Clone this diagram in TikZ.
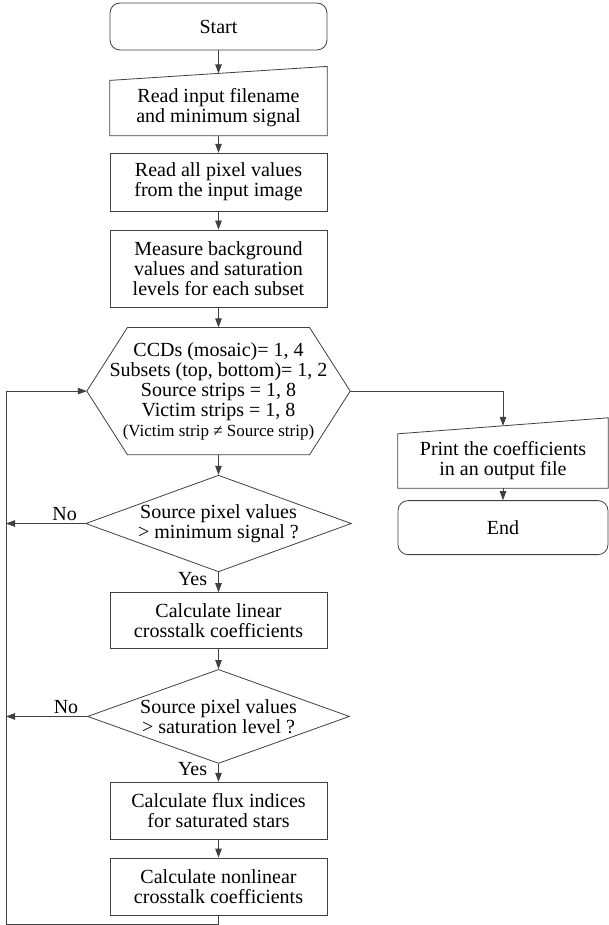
\documentclass[tikz,border=0pt]{standalone}
\usepackage{fontspec}
\setmainfont{Liberation Serif}
\usetikzlibrary{positioning,shapes.geometric,arrows.meta}

\tikzset{
  process/.style = {draw=black!75, line width=0.8pt, minimum width=217pt,
    minimum height=57pt, inner sep=0pt, align=center},
  terminal/.style = {process, rounded corners=10pt},
  manual/.style = {minimum width=217pt, minimum height=55pt, inner sep=0pt, align=center},
  decision/.style = {diamond, aspect=2.75, draw=black!75, line width=0.8pt,
    minimum width=262pt, minimum height=95pt, inner sep=0pt, align=center},
  flow/.style = {draw=black!75, line width=0.8pt, -{Triangle[length=9pt,width=6.5pt]}},
  answer/.style = {inner sep=2pt}
}

\begin{document}
\begin{tikzpicture}[x=1pt, y=-1pt, node distance=18pt, font=\fontsize{20}{20}\selectfont]
  \useasboundingbox (0,0) rectangle (609,925);

  \node[terminal, minimum height=47pt] (start) at (218.5,26.5) {Start};
  \node[manual, below=30pt of start] (readin) {Read input filename\\and minimum signal};
  \node[process, minimum height=58pt, below=17pt of readin] (readall) {Read all pixel values\\from the input image};
  \node[process, minimum height=77pt, below=of readall] (measure) {Measure background\\values and saturation\\levels for each subset};
  \node[minimum width=263pt, minimum height=127pt, inner sep=0pt, align=center,
    below=20pt of measure] (loop) {CCDs (mosaic)= 1, 4\\Subsets (top, bottom)= 1, 2\\Source strips = 1, 8\\Victim strips = 1, 8\\{\fontsize{17}{20}\selectfont (Victim strip ≠ Source strip)}};
  \node[decision, below=20pt of loop] (minsig) {Source pixel values\\> minimum signal ?};
  \node[process, minimum height=56pt, below=20pt of minsig] (linear) {Calculate linear\\crosstalk coefficients};
  \node[decision, minimum height=94pt, below=20pt of linear] (satlev) {Source pixel values\\> saturation level ?};
  \node[process, below=of satlev] (flux) {Calculate flux indices\\for saturated stars};
  \node[process, below=of flux] (nonlin) {Calculate nonlinear\\crosstalk coefficients};

  \node[manual, minimum width=210pt, minimum height=54pt] (print) at (503,461) {Print the coefficients\\in an output file};
  \node[terminal, minimum width=210pt, minimum height=54pt, below=12pt of print] (stop) {End};

  \coordinate (corner) at (6,924);

  % manual input and loop outlines
  \draw[draw=black!75, line width=0.8pt] (readin.south west) -- (readin.north west)
    -- ([yshift=14pt]readin.north east) -- (readin.south east) -- cycle;
  \draw[draw=black!75, line width=0.8pt] (print.south west) -- (print.north west)
    -- ([yshift=16pt]print.north east) -- (print.south east) -- cycle;
  \draw[draw=black!75, line width=0.8pt] (loop.west) -- ([xshift=-91pt]loop.north)
    -- ([xshift=91pt]loop.north) -- (loop.east) -- ([xshift=91pt]loop.south)
    -- ([xshift=-91pt]loop.south) -- cycle;

  \draw[flow] (start) -- ([yshift=7pt]readin.north);
  \draw[flow] (readin) -- (readall);
  \draw[flow] (readall) -- (measure);
  \draw[flow] (measure) -- (loop.north);
  \draw[flow] (loop.south) -- (minsig);
  \draw[flow] (minsig) -- node[answer, left, pos=0.35, xshift=-9pt] {Yes} (linear);
  \draw[flow] (linear) -- (satlev);
  \draw[flow] (satlev) -- node[answer, left, pos=0.28, xshift=-9pt] {Yes} (flux);
  \draw[flow] (flux) -- (nonlin);
  \draw[flow] (minsig.west) -- node[answer, above, pos=0.26] {No} (minsig.west -| corner);
  \draw[flow] (satlev.west) -- node[answer, above, pos=0.26] {No} (satlev.west -| corner);
  \draw[flow] (nonlin.south) |- (corner) |- (loop.west);
  \draw[flow] (loop.east) -| ([yshift=8pt]print.north);
  \draw[flow] (print) -- (stop);
\end{tikzpicture}
\end{document}
